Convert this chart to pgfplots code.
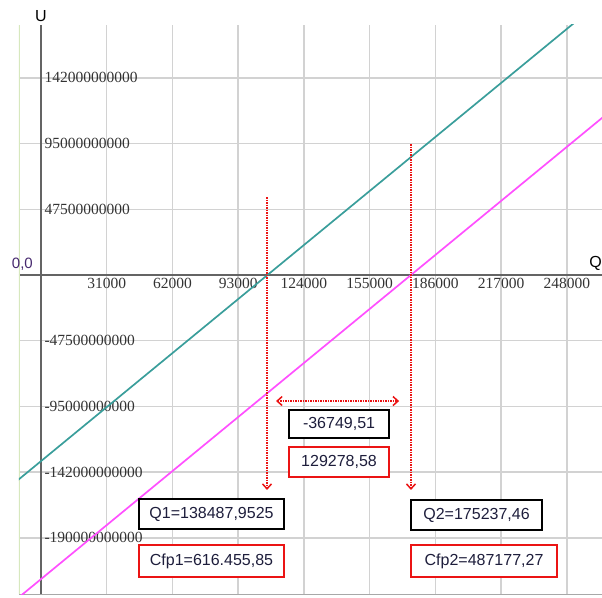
\documentclass[border=0pt]{standalone}
\usepackage{fontspec}
\setmainfont{Liberation Sans}
\newfontfamily\serifnum{Liberation Serif}
\usepackage{pgfplots}
\pgfplotsset{compat=1.18}
\usetikzlibrary{arrows.meta}
\definecolor{tealline}{RGB}{58,158,155}
\definecolor{magline}{RGB}{255,80,255}
\definecolor{gridgray}{RGB}{210,210,210}
\definecolor{axisgray}{RGB}{100,100,100}
\definecolor{boxred}{RGB}{235,20,20}
\definecolor{textnavy}{RGB}{30,30,60}
\definecolor{originpurple}{RGB}{70,40,110}
\definecolor{edgegreen}{RGB}{215,232,190}
\begin{document}
\begin{tikzpicture}
\begin{axis}[
  scale only axis, width=583pt, height=569pt,
  xmin=-10377, xmax=264600, ymin=-230.6e9, ymax=180.75e9,
  axis lines=middle,
  axis line style={-, draw=axisgray, line width=1.8pt},
  grid=major, grid style={gridgray, line width=1.4pt},
  major tick length=0pt,
  xtick={31000,62000,93000,124000,155000,186000,217000,248000},
  xticklabels={31000,62000,93000,124000,155000,186000,217000,248000},
  ytick={-190e9,-142.5e9,-95e9,-47.5e9,47.5e9,95e9,142.5e9},
  yticklabels={-190000000000,-142000000000,-95000000000,-47500000000,47500000000,95000000000,142000000000},
  scaled x ticks=false, scaled y ticks=false,
  ticklabel style={font=\serifnum\fontsize{15.5}{17}\selectfont, text=black!80},
  yticklabel style={anchor=west},
  xticklabel style={anchor=north},
  clip=true,
]
\draw[edgegreen, line width=2pt] (rel axis cs:0,0) -- (rel axis cs:0,1);
\draw[gridgray!80!black, line width=1pt] (rel axis cs:0,0) -- (rel axis cs:1,0);
\addplot[tealline, line width=1.7pt] coordinates {(-11000,-148.4e9) (255000,186.7e9)};
\addplot[magline, line width=1.7pt] coordinates {(-11000,-233.7e9) (266000,115.3e9)};
\addplot[boxred, densely dotted, line width=1.5pt, -{Straight Barb[length=5pt,width=9pt]}] coordinates {(106600,56.4e9) (106600,-155.4e9)};
\addplot[boxred, densely dotted, line width=1.5pt, -{Straight Barb[length=5pt,width=9pt]}] coordinates {(174500,94.7e9) (174500,-155.4e9)};
\addplot[boxred, densely dotted, line width=1.5pt, {Straight Barb[length=5pt,width=9pt]}-{Straight Barb[length=5pt,width=9pt]}] coordinates {(110850,-91.1e9) (168900,-91.1e9)};
\begin{scope}[every node/.style={draw, fill=white, line width=2pt, text=textnavy, font=\fontsize{16}{18}\selectfont, inner sep=0pt, anchor=center}]
\node[draw=black, minimum width=100pt, minimum height=28pt] at (axis cs:140570,-107.7e9) {-36749,51};
\node[draw=boxred, minimum width=100pt, minimum height=30pt] at (axis cs:140570,-135.2e9) {129278,58};
\node[draw=black, minimum width=145pt, minimum height=30pt] at (axis cs:80430,-172.8e9) {Q1=138487,9525};
\node[draw=boxred, minimum width=145pt, minimum height=32pt] at (axis cs:80430,-206.8e9) {Cfp1=616.455,85};
\node[draw=black, minimum width=131pt, minimum height=30pt] at (axis cs:205430,-173.5e9) {Q2=175237,46};
\node[draw=boxred, minimum width=146pt, minimum height=32pt] at (axis cs:208960,-206.8e9) {Cfp2=487177,27};
\end{scope}
\coordinate (O) at (axis cs:0,0);
\coordinate (E) at (axis cs:264600,0);
\end{axis}
\node[anchor=south east, font=\fontsize{15}{17}\selectfont, text=originpurple, inner sep=0pt] at ([xshift=-8pt,yshift=4pt]O) {0,0};
\node[anchor=south, font=\fontsize{16}{18}\selectfont, inner sep=1pt] at ([xshift=22pt,yshift=2pt]current axis.north west) {U};
\node[anchor=south east, font=\fontsize{16}{18}\selectfont, inner sep=0pt] at ([yshift=4pt]E) {Q};
\pgfresetboundingbox
\path[use as bounding box] ([xshift=-19pt,yshift=-3pt]current axis.south west) rectangle ([yshift=25pt]current axis.north east);
\end{tikzpicture}
\end{document}
